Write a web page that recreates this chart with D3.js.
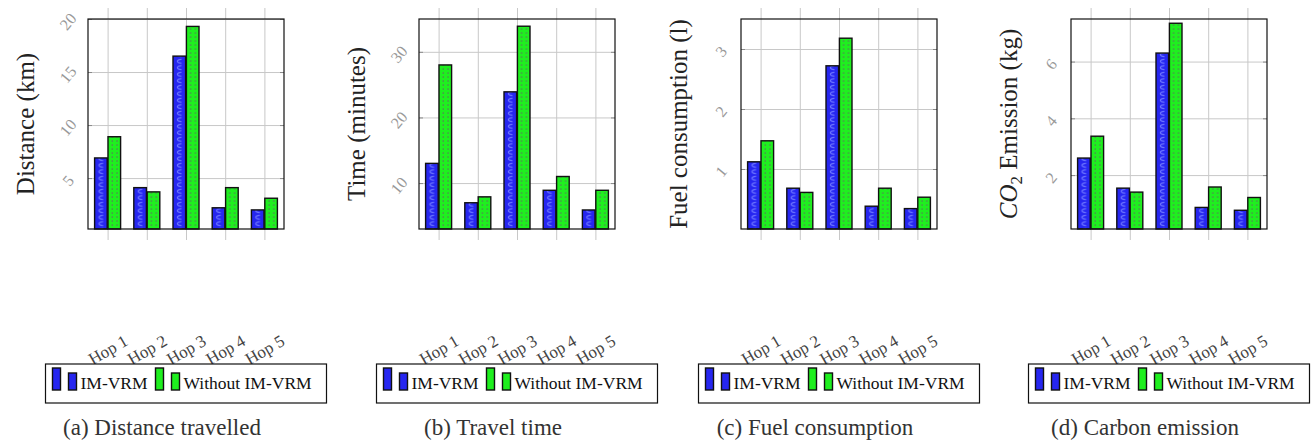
<!DOCTYPE html>
<html>
<head>
<meta charset="utf-8">
<script src="https://cdn.jsdelivr.net/npm/d3@7"></script>
<style>
  body { margin: 0; background: #fff; }
  text { font-family: "Liberation Serif", "Times New Roman", serif; }
</style>
</head>
<body>
<div id="chart"></div>
<script>
// categories and series
var hops = ["Hop 1", "Hop 2", "Hop 3", "Hop 4", "Hop 5"];
var seriesNames = ["IM-VRM", "Without IM-VRM"];

// values
var distanceImVrm = [6.9, 4.1, 16.5, 2.2, 2.0];
var distanceWithout = [8.9, 3.7, 19.3, 4.1, 3.1];
var timeImVrm = [13, 7, 23.9, 8.9, 5.9];
var timeWithout = [28, 7.9, 33.9, 11, 8.9];
var fuelImVrm = [1.12, 0.68, 2.72, 0.38, 0.34];
var fuelWithout = [1.47, 0.61, 3.18, 0.68, 0.53];
var co2ImVrm = [2.6, 1.54, 6.3, 0.86, 0.76];
var co2Without = [3.37, 1.4, 7.35, 1.58, 1.21];

// y ticks and axis ranges
var distanceTicks = [5, 10, 15, 20];
var timeTicks = [10, 20, 30];
var fuelTicks = [1, 2, 3];
var co2Ticks = [2, 4, 6];
var distanceRange = [0.2, 20];
var timeRange = [3, 35];
var fuelRange = [0, 3.5];
var co2Range = [0.1, 7.5];

var yLabels = ["Distance (km)", "Time (minutes)", "Fuel consumption (l)", "CO2 Emission (kg)"];
var captions = ["(a) Distance travelled", "(b) Travel time", "(c) Fuel consumption", "(d) Carbon emission"];

var panels = [
  { values: [distanceImVrm, distanceWithout], ticks: distanceTicks, range: distanceRange },
  { values: [timeImVrm, timeWithout], ticks: timeTicks, range: timeRange },
  { values: [fuelImVrm, fuelWithout], ticks: fuelTicks, range: fuelRange },
  { values: [co2ImVrm, co2Without], ticks: co2Ticks, range: co2Range }
];

var svgWidth = 1311;
var svgHeight = 441;
var plotTop = 19;
var plotWidth = 196;
var plotHeight = 210;
var panelLefts = [88, 419, 741, 1071];

var blue = "#2626f0";
var green = "#1fef1f";
var font = '"Liberation Serif", "Times New Roman", serif';

var svg = d3.select("#chart")
  .append("svg")
  .attr("width", svgWidth)
  .attr("height", svgHeight);

// shared x scales
var x = d3.scalePoint()
  .domain(hops)
  .range([0, plotWidth])
  .padding(0.5);

var xSub = d3.scaleBand()
  .domain(seriesNames)
  .range([-13, 13])
  .paddingInner(0.06);

// bar textures (in the coordinate system of each hop group)
var defs = svg.append("defs");

var bluePat = defs.append("pattern")
  .attr("id", "bluePat")
  .attr("patternUnits", "userSpaceOnUse")
  .attr("x", xSub("IM-VRM"))
  .attr("y", 0)
  .attr("width", 40)
  .attr("height", 6.5);
bluePat.append("rect").attr("width", 40).attr("height", 6.5).attr("fill", blue);
bluePat.append("path")
  .attr("d", "M8.5,1.3 C3,1.3 3,5.2 8.5,5.2")
  .attr("fill", "none")
  .attr("stroke", "#6f78ff")
  .attr("stroke-width", 1.2);

var greenPat = defs.append("pattern")
  .attr("id", "greenPat")
  .attr("patternUnits", "userSpaceOnUse")
  .attr("x", xSub("Without IM-VRM"))
  .attr("y", 0)
  .attr("width", 40)
  .attr("height", 4);
greenPat.append("rect").attr("width", 40).attr("height", 4).attr("fill", green);
greenPat.selectAll("rect.dot")
  .data([3.6, 8.4])
  .enter()
  .append("rect")
  .classed("dot", true)
  .attr("x", d => d)
  .attr("y", 1.4)
  .attr("width", 1.3)
  .attr("height", 1.3)
  .attr("fill", "#5f6f5f");

var patterns = ["url(#bluePat)", "url(#greenPat)"];
var plainFills = [blue, green];

panels.forEach(function(p, i) {
  var left = panelLefts[i];
  var chartGroup = svg.append("g")
    .attr("transform", `translate(${left}, ${plotTop})`);

  var y = d3.scaleLinear()
    .domain(p.range)
    .range([plotHeight, 0]);

  // vertical grid, running past the frame like the original
  var xGrid = chartGroup.append("g")
    .attr("transform", "translate(0, -11)")
    .call(d3.axisBottom(x).tickSize(plotHeight + 22).tickFormat(""));
  xGrid.select(".domain").remove();
  xGrid.selectAll("line").attr("stroke", "#c8c8c8");

  // horizontal grid with rotated labels
  var yAxis = chartGroup.append("g")
    .call(d3.axisLeft(y).tickValues(p.ticks).tickSize(-plotWidth).tickFormat(d3.format("d")));
  yAxis.select(".domain").remove();
  yAxis.attr("font-family", font).attr("font-size", 16);
  yAxis.selectAll("line").attr("stroke", "#c8c8c8");
  yAxis.selectAll("text")
    .attr("x", 0)
    .attr("dy", null)
    .attr("text-anchor", "middle")
    .attr("dominant-baseline", "central")
    .attr("transform", "translate(-20, 2) rotate(-50)")
    .attr("fill", "#999");

  // small ticks inside the frame
  var tickL = chartGroup.append("g")
    .call(d3.axisLeft(y).tickValues(p.ticks).tickSize(-4).tickFormat(""));
  tickL.select(".domain").remove();
  tickL.selectAll("line").attr("stroke", "#8a8a8a");
  var tickR = chartGroup.append("g")
    .attr("transform", `translate(${plotWidth}, 0)`)
    .call(d3.axisRight(y).tickValues(p.ticks).tickSize(-4).tickFormat(""));
  tickR.select(".domain").remove();
  tickR.selectAll("line").attr("stroke", "#8a8a8a");

  // bars
  chartGroup.selectAll(".hop")
    .data(hops)
    .enter()
    .append("g")
    .classed("hop", true)
    .attr("transform", d => `translate(${x(d)}, 0)`)
    .selectAll("rect")
    .data((d, j) => seriesNames.map((s, k) => ({ s: s, k: k, v: p.values[k][j] })))
    .enter()
    .append("rect")
    .attr("x", d => xSub(d.s))
    .attr("width", xSub.bandwidth())
    .attr("y", d => y(d.v))
    .attr("height", d => plotHeight - y(d.v))
    .attr("fill", d => patterns[d.k])
    .attr("stroke", "#111")
    .attr("stroke-width", 1.4);

  // frame
  chartGroup.append("rect")
    .attr("width", plotWidth)
    .attr("height", plotHeight)
    .attr("fill", "none")
    .attr("stroke", "#111")
    .attr("stroke-width", 1.2);

  // hop labels far below the plot
  var xLabels = chartGroup.append("g")
    .attr("transform", "translate(0, 331)")
    .call(d3.axisBottom(x).tickSize(0).tickPadding(0));
  xLabels.select(".domain").remove();
  xLabels.attr("font-family", font).attr("font-size", 17);
  xLabels.selectAll("text")
    .attr("y", 0)
    .attr("dy", null)
    .attr("text-anchor", "middle")
    .attr("dominant-baseline", "central")
    .attr("transform", "rotate(-30)")
    .attr("fill", "#444");

  // y axis label
  var yLabel = chartGroup.append("text")
    .attr("transform", `translate(-54, ${plotHeight / 2}) rotate(-90)`)
    .attr("text-anchor", "middle")
    .attr("font-size", 25)
    .attr("fill", "#222");
  if (i === 3) {
    yLabel.append("tspan").attr("font-style", "italic").text("CO");
    yLabel.append("tspan").attr("font-size", 17).attr("dy", 5).text("2");
    yLabel.append("tspan").attr("dy", -5).text(" Emission (kg)");
  } else {
    yLabel.text(yLabels[i]);
  }

  // legend
  var legend = svg.append("g")
    .attr("transform", `translate(${left + plotWidth / 2 - 140.5}, 364)`);
  legend.append("rect")
    .attr("width", 281)
    .attr("height", 39)
    .attr("fill", "#fff")
    .attr("stroke", "#111")
    .attr("stroke-width", 1.2);

  var itemX = [7, 110];
  seriesNames.forEach(function(name, k) {
    var ix = itemX[k];
    legend.append("rect")
      .attr("x", ix).attr("y", 4)
      .attr("width", 8).attr("height", 22)
      .attr("fill", plainFills[k]).attr("stroke", "#111").attr("stroke-width", 1.4);
    legend.append("rect")
      .attr("x", ix + 16).attr("y", 9)
      .attr("width", 8).attr("height", 17)
      .attr("fill", plainFills[k]).attr("stroke", "#111").attr("stroke-width", 1.4);
    legend.append("text")
      .attr("x", ix + 28)
      .attr("y", 24.5)
      .attr("font-size", 17.5)
      .attr("fill", "#111")
      .text(name);
  });

  // sub caption
  svg.append("text")
    .attr("x", left + plotWidth / 2 - 24)
    .attr("y", 435)
    .attr("text-anchor", "middle")
    .attr("font-size", 23)
    .attr("fill", "#333")
    .text(captions[i]);
});
</script>
</body>
</html>
